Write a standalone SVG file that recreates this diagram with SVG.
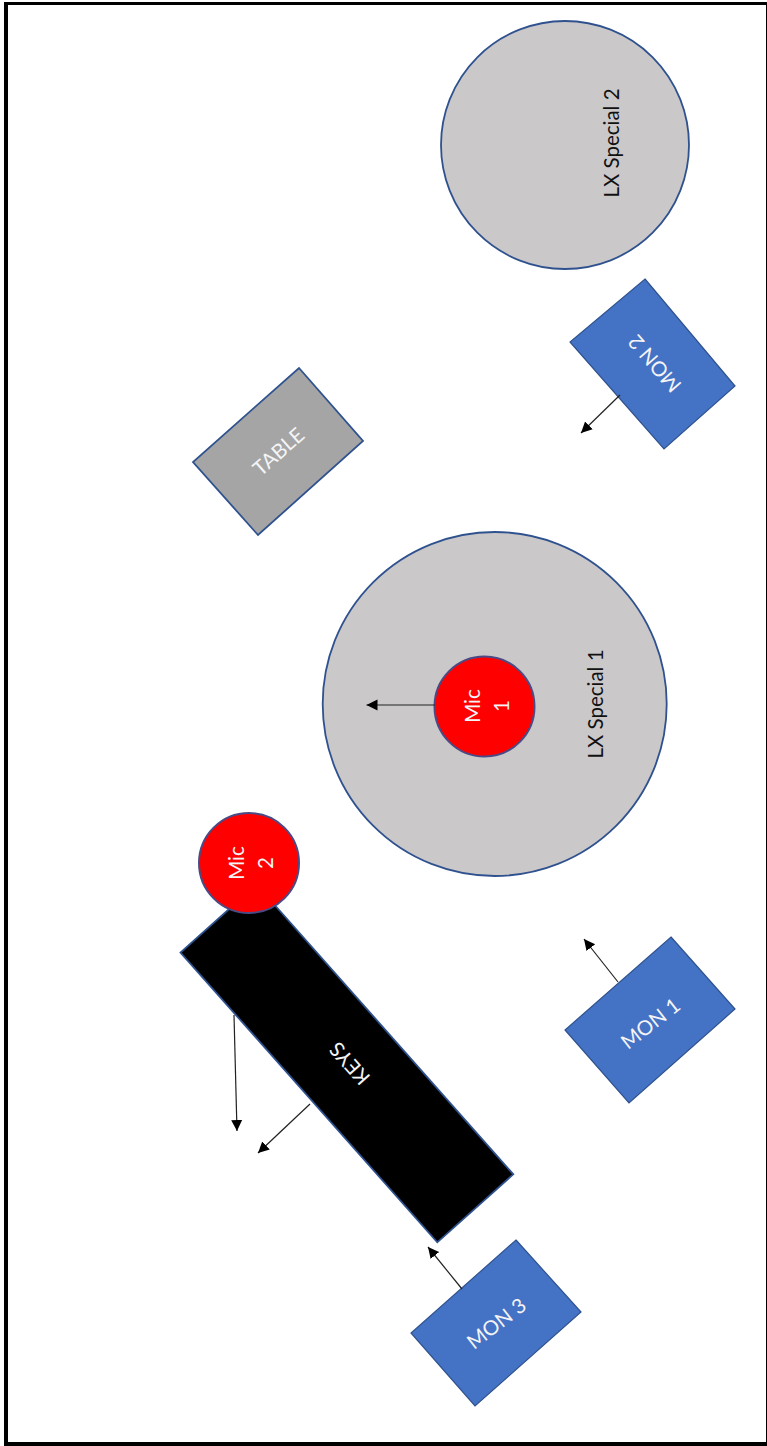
<svg xmlns="http://www.w3.org/2000/svg" width="767" height="1446" viewBox="0 0 767 1446">
<style>
text{font-family:Lato,"Open Sans","Liberation Sans",sans-serif;font-size:20.500px;text-anchor:middle;dominant-baseline:central}
.w{fill:#f4f4f6}.k{fill:#111}
.b{stroke:#2f528f;stroke-width:1.800}
.mon{fill:#4472c4;stroke-width:1.200}
.lx{fill:#cbc8ca}
.mic{fill:#ff0000;stroke:#4a4b86;stroke-width:2}
.c{stroke:#222;stroke-width:1.200;fill:none;marker-end:url(#a)}
</style>
<defs><marker id="a" markerUnits="userSpaceOnUse" markerWidth="13" markerHeight="13" refX="11" refY="6" orient="auto"><path d="M0 0.500L11 6L0 11.500Z" fill="#000"/></marker></defs>
<rect width="767" height="1446" fill="#fff"/>
<path id="frame" fill="#000" fill-rule="evenodd" d="M4 2H767V1446H4ZM8 5V1442H766V5Z"/>
<g id="lx2"><circle class="b lx" cx="565" cy="145" r="124"/><text class="k" transform="translate(611 143) rotate(-90)">LX Special 2</text></g>
<g id="lx1"><circle class="b lx" cx="494.700" cy="704" r="172"/><text class="k" transform="translate(595 704) rotate(-90)">LX Special 1</text></g>
<g id="table"><polygon class="b" fill="#a5a5a5" points="299,368 363,441 258,535 193,462"/><text class="w" transform="translate(278 451) rotate(-41.500)">TABLE</text></g>
<g id="mon2"><polygon class="b mon" points="645,279 735,386 664,449 570,342"/><text class="w" transform="translate(654 364) rotate(-131)">MON 2</text></g>
<g id="keys"><polygon class="b" fill="#000" points="256.500,884.500 513.300,1174.300 437.300,1242.300 180.500,952.500"/><text class="w" transform="translate(349 1064) rotate(-131.500)">KEYS</text></g>
<g id="mic2"><circle class="mic" cx="249" cy="863" r="50"/><text class="w" transform="translate(236 863) rotate(-90)">Mic</text><text class="w" transform="translate(265 863) rotate(-90)">2</text></g>
<g id="mic1"><circle class="mic" cx="484.500" cy="706.500" r="50"/><text class="w" transform="translate(472 706) rotate(-90)">Mic</text><text class="w" transform="translate(501 706) rotate(-90)">1</text></g>
<g id="mon1"><polygon class="b mon" points="671,937 735,1009 629,1103 565,1030"/><text class="w" transform="translate(650 1023) rotate(-38)">MON 1</text></g>
<g id="mon3"><polygon class="b mon" points="516,1240 581,1312 475,1406 411,1333"/><text class="w" transform="translate(496 1323) rotate(-38)">MON 3</text></g>
<g id="connectors">
<line class="c" x1="435" y1="705" x2="366.500" y2="705"/>
<line class="c" x1="620" y1="395" x2="581" y2="433"/>
<line class="c" x1="618" y1="982" x2="584" y2="939"/>
<line class="c" x1="462" y1="1289" x2="428" y2="1247"/>
<line class="c" x1="234" y1="1015" x2="237" y2="1131"/>
<line class="c" x1="310" y1="1104" x2="258" y2="1153"/>
</g>
</svg>
